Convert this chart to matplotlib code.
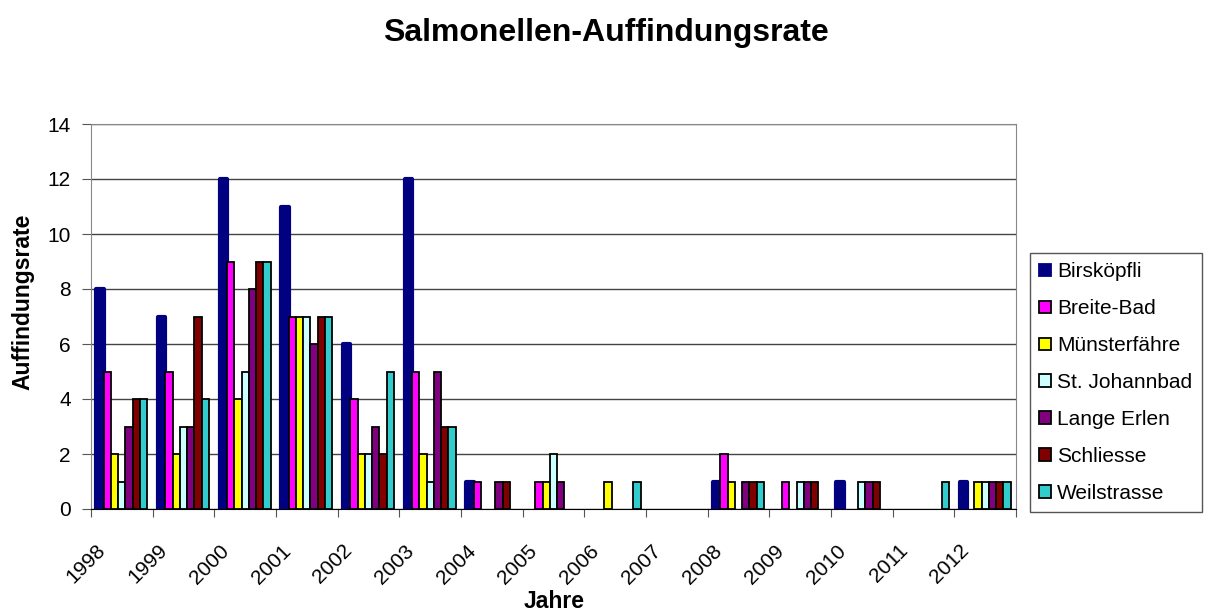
import numpy as np
import matplotlib
matplotlib.use('Agg')
import matplotlib.pyplot as plt
from matplotlib.patches import Patch

plt.rcParams['font.family'] = ['Liberation Sans', 'DejaVu Sans']

jahre = ['1998', '1999', '2000', '2001', '2002', '2003', '2004', '2005',
         '2006', '2007', '2008', '2009', '2010', '2011', '2012']

birskoepfli = [8, 7, 12, 11, 6, 12, 1, 0, 0, 0, 1, 0, 1, 0, 1]
breite_bad = [5, 5, 9, 7, 4, 5, 1, 1, 0, 0, 2, 1, 0, 0, 0]
muensterfaehre = [2, 2, 4, 7, 2, 2, 0, 1, 1, 0, 1, 0, 0, 0, 1]
st_johannbad = [1, 3, 5, 7, 2, 1, 0, 2, 0, 0, 0, 1, 1, 0, 1]
lange_erlen = [3, 3, 8, 6, 3, 5, 1, 1, 0, 0, 1, 1, 1, 0, 1]
schliesse = [4, 7, 9, 7, 2, 3, 1, 0, 0, 0, 1, 1, 1, 0, 1]
weilstrasse = [4, 4, 9, 7, 5, 3, 0, 0, 1, 0, 1, 0, 0, 1, 1]

serien = ['Birsköpfli', 'Breite-Bad', 'Münsterfähre', 'St. Johannbad',
          'Lange Erlen', 'Schliesse', 'Weilstrasse']
werte = [birskoepfli, breite_bad, muensterfaehre, st_johannbad,
         lange_erlen, schliesse, weilstrasse]
farben = ['#000080', '#FF00FF', '#FFFF00', '#CCFFFF', '#800080', '#800000', '#33CCCC']


def main():
    fig = plt.figure(figsize=(12.08, 6.14), dpi=100)
    ax = fig.add_axes([91/1208, 1-509/614, (1016-91)/1208, (509-124)/614])

    n = len(jahre)
    w = 0.83 / len(serien)
    for j, (name, vals, col) in enumerate(zip(serien, werte, farben)):
        vals = np.array(vals)
        x = np.arange(n) + 0.085 + w*(j + 0.5)
        m = vals > 0
        if j == 0:
            bars = ax.bar(x[m], vals[m], w, color=col, edgecolor=col, linewidth=3, zorder=3)
            for b in bars:
                b.set_joinstyle('round')
        else:
            ax.bar(x[m], vals[m], w, color=col, edgecolor='black', linewidth=1.3, zorder=4)

    ax.set_xlim(0, n)
    ax.set_ylim(0, 14)
    ax.set_yticks(range(0, 15, 2))
    ax.yaxis.grid(True, color='#444444', linewidth=1)
    ax.set_axisbelow(True)

    ax.set_xticks(range(n + 1))
    ax.set_xticklabels([])
    ax.set_xticks(np.arange(n) + 0.3, jahre, minor=True)
    ax.tick_params(axis='x', which='minor', length=0, pad=23, labelsize=15)
    plt.setp(ax.get_xticklabels(minor=True), rotation=45, ha='right')
    ax.tick_params(axis='x', which='major', length=6, color='#555555', direction='out')
    ax.tick_params(axis='y', length=6.5, pad=8, labelsize=15, color='#555555')

    for s in ['top', 'right', 'left']:
        ax.spines[s].set_color('#888888')
    ax.spines['bottom'].set_color('black')

    fig.text(606/1208, 1-33/614, 'Salmonellen-Auffindungsrate', ha='center', va='center',
             fontsize=23, fontweight='bold')
    fig.text(23/1208, 1-302/614, 'Auffindungsrate', rotation=90, ha='center', va='center',
             fontsize=16.5, fontweight='bold')
    fig.text(554/1208, 1-601/614, 'Jahre', ha='center', va='center',
             fontsize=16.5, fontweight='bold')

    handles = []
    for j, (name, col) in enumerate(zip(serien, farben)):
        ec = col if j == 0 else 'black'
        handles.append(Patch(facecolor=col, edgecolor=ec, linewidth=1.3, label=name))
    leg = fig.legend(handles=handles, loc='upper left', bbox_to_anchor=(1030/1208, 1-253/614),
                     fontsize=15, fancybox=False, framealpha=1, edgecolor='#555555',
                     handlelength=0.55, handleheight=0.55, handletextpad=0.3,
                     labelspacing=0.86, borderpad=0.45, borderaxespad=0)
    leg.get_frame().set_linewidth(1)

    fig.savefig('out.png', dpi=100)


if __name__ == '__main__':
    main()
